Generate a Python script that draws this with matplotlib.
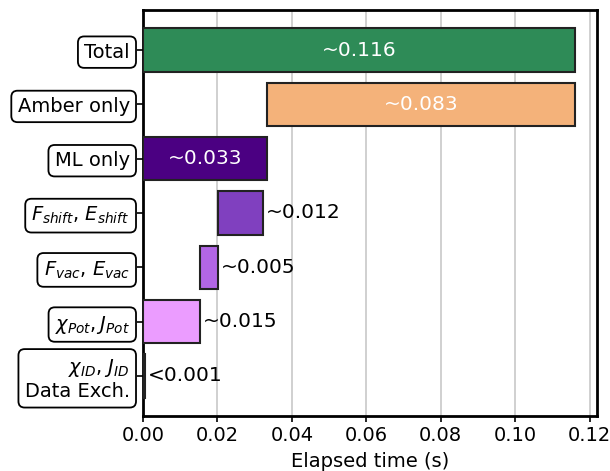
import numpy as np
import matplotlib
matplotlib.use('Agg')
import matplotlib.pyplot as plt

labels = ['Total', 'Amber only', 'ML only',
          r'$F_{shift}$, $E_{shift}$', r'$F_{vac}$, $E_{vac}$',
          r'$\chi_{Pot},J_{Pot}$', '$\\chi_{ID}$, $J_{ID}$\nData Exch.']
starts = [0.0, 0.0332, 0.0, 0.0202, 0.0153, 0.0, 0.0]
widths = [0.1162, 0.0830, 0.0332, 0.0120, 0.0049, 0.0153, 0.0005]
texts = ['~0.116', '~0.083', '~0.033', '~0.012', '~0.005', '~0.015', '<0.001']
inside = [True, True, True, False, False, False, False]
colors = ['#2e8b57', '#f4b27a', '#4b0082', '#8040bf', '#b266e5', '#eb9cff', '#000000']

plt.rcParams['font.size'] = 14
fig = plt.figure(figsize=(6.1, 4.71), dpi=100)
ax = fig.add_axes([0.2344, 0.1168, 0.7443, 0.862])

y = np.arange(len(labels))
bars = ax.barh(y, widths, left=starts, height=0.8, color=colors,
               edgecolor='#222222', linewidth=1.5, zorder=3)
for i in range(len(labels)):
    if inside[i]:
        ax.text(starts[i] + widths[i] / 2, y[i], texts[i], ha='center', va='center',
                color='white', fontsize=14.5, zorder=4)
    else:
        ax.text(starts[i] + widths[i] + 0.0008, y[i], texts[i], ha='left', va='center',
                color='black', fontsize=14.5, zorder=4)

ax.set_yticks(y)
ax.set_yticklabels(labels)
ax.invert_yaxis()
for lab in ax.get_yticklabels():
    lab.set_bbox(dict(boxstyle='round,pad=0.32', fc='white', ec='black', lw=1.3))
ax.tick_params(axis='y', length=4, width=1.2, pad=5.5)
ax.tick_params(axis='x', length=4, width=1.2)

ax.grid(axis='x', color='#c8c8c8', linewidth=1.2, zorder=0)
ax.set_axisbelow(True)
for s in ax.spines.values():
    s.set_linewidth(2)
ax.set_xticks([0, 0.02, 0.04, 0.06, 0.08, 0.10, 0.12])
ax.set_xlabel('Elapsed time (s)', labelpad=5)

fig.savefig('out.png', dpi=100)
